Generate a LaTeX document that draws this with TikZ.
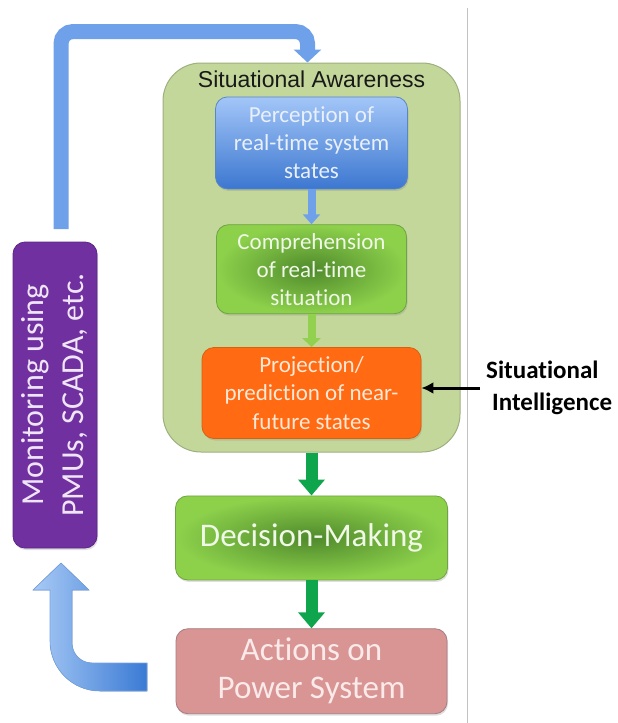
\documentclass[tikz,border=0pt]{standalone}
\usepackage{fontspec}
\setmainfont{Carlito}[Ligatures=NoCommon,Contextuals=NoAlternate]
\newfontfamily\arialfont{Liberation Sans}
\usepackage{tikz}
\usetikzlibrary{arrows.meta,positioning,shadows}
\definecolor{sagreen}{HTML}{C4D79B}
\definecolor{saedge}{HTML}{9DB07E}
\definecolor{perctop}{HTML}{A3C6F8}
\definecolor{percbot}{HTML}{3C77D0}
\definecolor{percedge}{HTML}{5A86C4}
\definecolor{perctext}{HTML}{E9F0FA}
\definecolor{compout}{HTML}{8DD14B}
\definecolor{compin}{HTML}{4F8A2C}
\definecolor{compedge}{HTML}{6FA343}
\definecolor{comptext}{HTML}{F0F8E8}
\definecolor{projfill}{HTML}{FF6A12}
\definecolor{projedge}{HTML}{D9600F}
\definecolor{projtext}{HTML}{FFE8D6}
\definecolor{actfill}{HTML}{D99594}
\definecolor{actedge}{HTML}{A57D84}
\definecolor{acttext}{HTML}{FAEAEA}
\definecolor{monfill}{HTML}{7030A0}
\definecolor{monedge}{HTML}{5B2688}
\definecolor{montext}{HTML}{EFE5F7}
\definecolor{flowblue}{HTML}{6FA1EA}
\definecolor{flowlight}{HTML}{A8CAF6}
\definecolor{flowdark}{HTML}{3A7AD4}
\definecolor{flowgreen}{HTML}{0FA54C}
\definecolor{lightflow}{HTML}{92D050}
\definecolor{divider}{HTML}{C3C3C3}

\begin{document}
\begin{tikzpicture}[x=1pt,y=1pt,
  box/.style={draw,rounded corners=12pt,align=center,inner sep=0pt,line width=0.8pt,
    drop shadow={opacity=0.25,shadow xshift=1pt,shadow yshift=-2pt}},
  sabox/.style={draw=saedge,fill=sagreen,rounded corners=38pt,line width=1pt,
    minimum width=297pt,minimum height=389pt,inner sep=0pt},
  satitle/.style={font=\arialfont\fontsize{23}{28}\selectfont,text=black!90,inner sep=0pt},
  percbox/.style={box,top color=perctop,bottom color=percbot,draw=percedge,text=perctext,
    minimum width=192pt,minimum height=92pt,font=\fontsize{23}{28}\selectfont},
  compbox/.style={box,inner color=compin,outer color=compout,draw=compedge,text=comptext,
    minimum width=190pt,minimum height=89pt,font=\fontsize{23}{28}\selectfont},
  projbox/.style={box,fill=projfill,draw=projedge,text=projtext,
    minimum width=219pt,minimum height=91pt,font=\fontsize{23}{28.5}\selectfont},
  decbox/.style={box,inner color=compin,outer color=compout,draw=compedge,text=comptext,
    minimum width=272pt,minimum height=84pt,font=\fontsize{33}{38}\selectfont},
  actbox/.style={box,fill=actfill,draw=actedge,text=acttext,
    minimum width=271pt,minimum height=85pt,font=\fontsize{33}{38}\selectfont},
  monbox/.style={box,fill=monfill,draw=monedge,text=montext,
    minimum width=306pt,minimum height=84pt,font=\fontsize{32}{40}\selectfont},
  silabel/.style={align=left,inner xsep=6pt,inner ysep=0pt,font=\bfseries\fontsize{25}{32}\selectfont},
  bluelink/.style={-{Triangle[width=17pt,length=10pt]},line width=8pt,draw=flowblue},
  limelink/.style={-{Triangle[width=18pt,length=9pt]},line width=8pt,draw=lightflow},
  greenlink/.style={-{Triangle[width=26pt,length=16pt]},line width=12pt,draw=flowgreen},
  looparrow/.style={-{Triangle[width=27pt,length=13pt]},line width=15pt,draw=flowblue},
  pointer/.style={-{Latex[length=12pt,width=12pt]},line width=3pt,draw=black}
]
\useasboundingbox (0,0) rectangle (618,-723);
\fill[white] (0,0) rectangle (618,-723);
\draw[divider,line width=1pt] (467,-8) -- (467,-723);

% situational awareness block
\node[sabox] (sa) at (311.5,-257.5) {};
\node[satitle,anchor=base] (title) at ([yshift=-25pt]sa.north) {Situational Awareness};
\node[percbox,below=34pt of sa.north] (perc) {Perception of\\real-time system\\states};
\node[compbox,below=35pt of perc] (comp) {Comprehension\\of real-time\\situation};
\node[projbox,below=33pt of comp] (proj) {Projection/\\prediction of near-\\future states};

% decision and action
\node[decbox,below=43pt of sa] (dec) {Decision-Making};
\node[actbox,below=48pt of dec] (act) {Actions on\\Power System};

% monitoring
\node[monbox,rotate=90] (mon) at (55,-395) {Monitoring using\\PMUs, SCADA, etc.};
\node[silabel,anchor=west] (si) at (480,-388) {Situational\\\hspace*{6pt}Intelligence};

\draw[bluelink] (perc) -- (comp);
\draw[limelink] (comp) -- (proj);
\draw[greenlink] (sa) -- (dec);
\draw[greenlink] (dec) -- (act);
\draw[pointer] (si.west) -- (si.west -| proj.east);

% feedback loop
\coordinate (loopstart) at (61,-229);
\coordinate (loopturn) at (61,-31.5);
\draw[looparrow,rounded corners=12pt] (loopstart) -- (loopturn) -| ([xshift=-4pt]sa.north);
\filldraw[left color=flowlight,right color=flowdark,draw=flowdark!70,line width=0.6pt]
  (147,-663) -- (92,-663) arc[start angle=270,end angle=180,radius=20] -- (72,-590)
  -- (89,-590) -- (61,-563) -- (33,-590) -- (50,-590) -- (50,-641)
  arc[start angle=180,end angle=270,radius=50] -- (147,-691) -- cycle;
\end{tikzpicture}
\end{document}
